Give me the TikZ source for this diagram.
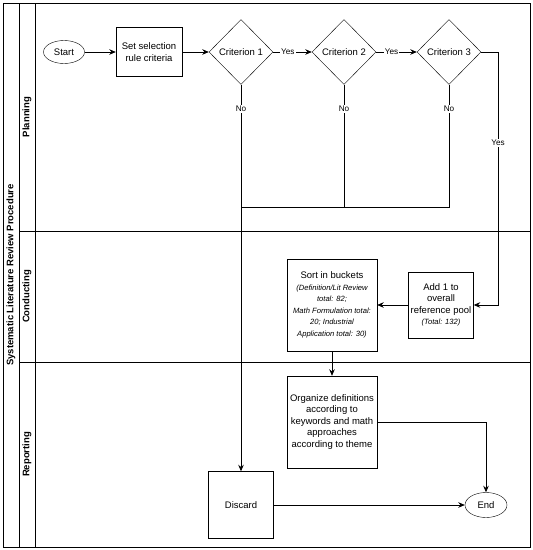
\documentclass[tikz,border=0pt]{standalone}
\usepackage{fontspec}
\setmainfont{Liberation Sans}
\usetikzlibrary{arrows.meta,positioning,shapes.geometric}
\newcommand{\detailfont}{\itshape\fontsize{7.6}{11.5}\selectfont}
\tikzset{
  stepbox/.style={draw, fill=white, align=center, inner sep=1pt, font=\fontsize{9.5}{11.5}\selectfont},
  terminal/.style={draw, ellipse, fill=white, inner sep=0pt, minimum width=41pt, minimum height=23pt, font=\fontsize{9.5}{11.5}\selectfont},
  criterion/.style={draw, diamond, aspect=1, fill=white, inner sep=0pt, minimum width=64pt, minimum height=65pt, font=\fontsize{9.5}{11.5}\selectfont},
  lanelabel/.style={rotate=90, font=\bfseries\fontsize{9.5}{11}\selectfont},
  flow/.style={-{Stealth[length=6.5pt,width=5.5pt]}, line width=0.8pt},
  link/.style={line width=0.8pt},
  branch/.style={fill=white, inner sep=1pt, font=\fontsize{8.2}{9}\selectfont}
}

\begin{document}
\begin{tikzpicture}[x=1pt,y=-1pt]
  \useasboundingbox (0,0) rectangle (533,550);

  % swimlanes
  \draw[link] (3,3) rectangle (530,547);
  \draw[link] (19,3) -- (19,547);
  \draw[link] (35,3) -- (35,547);
  \draw[link] (19,231) -- (530,231);
  \draw[link] (19,362) -- (530,362);
  \node[lanelabel] (proc) at (11,275) {Systematic Literature Review Procedure};
  \node[lanelabel] (plan) at (27,117) {Planning};
  \node[lanelabel] (cond) at (27,296.5) {Conducting};
  \node[lanelabel] (rep) at (27,454.5) {Reporting};

  \node[terminal] (start) at (64,52) {Start};
  \node[stepbox, minimum width=66pt, minimum height=49pt] (rules) at (149,52) {Set selection\\rule criteria};
  \node[criterion] (crit1) at (241,52) {Criterion 1};
  \node[criterion] (crit2) at (344,52) {Criterion 2};
  \node[criterion] (crit3) at (449,52) {Criterion 3};

  \node[stepbox, minimum width=65pt, minimum height=66pt] (pool) at (441,305)
    {Add 1 to\\overall\\reference pool\\\detailfont(Total: 132)};
  \node[stepbox, minimum width=90pt, minimum height=92pt] (buckets) at (332,305)
    {Sort in buckets\\\detailfont(Definition/Lit Review\\\detailfont total: 82;\\\detailfont Math Formulation total:\\\detailfont 20; Industrial\\\detailfont Application total: 30)};

  \node[stepbox, minimum width=90pt, minimum height=92pt] (organize) at (332,422)
    {Organize definitions\\according to\\keywords and math\\approaches\\according to theme};
  \node[stepbox, minimum width=65pt, minimum height=67pt] (discard) at (241,505) {Discard};
  \node[terminal, minimum width=42pt, minimum height=25pt] (end) at (486,505) {End};

  \coordinate (join) at (241,207);
  \coordinate (yesturn) at (498,305);

  \draw[flow] (start.east) -- (rules.west);
  \draw[flow] (rules.east) -- (crit1.west);
  \draw[flow] (crit1.east) -- node[branch, pos=0.38] {Yes} (crit2.west);
  \draw[flow] (crit2.east) -- node[branch, pos=0.38] {Yes} (crit3.west);
  \draw[flow] (crit3.east) -| node[branch, pos=0.68] {Yes} (yesturn) -- (pool.east);
  \draw[flow] (pool.west) -- (buckets.east);
  \draw[flow] (buckets.south) -- (organize.north);
  \draw[flow] (crit1.south) -- node[branch, pos=0.062] {No} (discard.north);
  \draw[link] (crit2.south) -- node[branch, pos=0.2] {No} (crit2.south |- join);
  \draw[link] (crit3.south) |- node[branch, pos=0.1] {No} (join);
  \draw[flow] (organize.east) -| (end.north);
  \draw[flow] (discard.east) -- (end.west);
\end{tikzpicture}
\end{document}
